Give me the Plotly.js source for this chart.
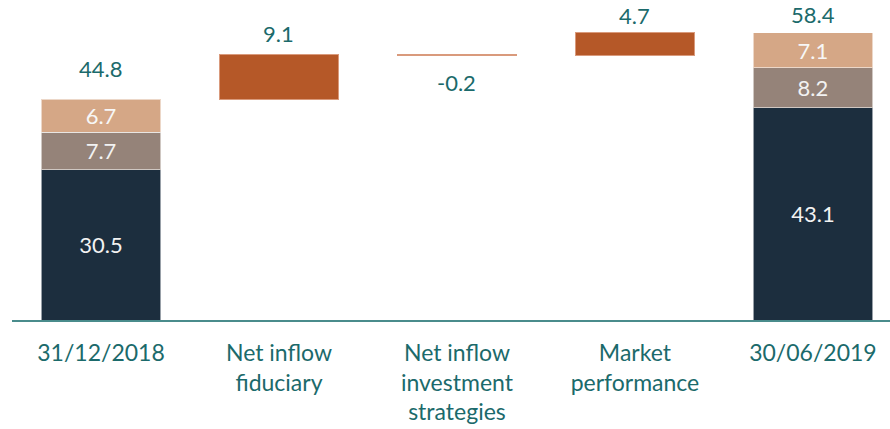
<!DOCTYPE html>
<html>
<head>
<meta charset="utf-8">
<script src="https://cdn.plot.ly/plotly-3.0.1.min.js"></script>
<style>html,body{margin:0;padding:0;background:#fff;}#chart{width:890px;height:429px;}</style>
</head>
<body>
<div id="chart"></div>
<script>
var categories = ['31/12/2018', 'Net inflow<br>fiduciary', 'Net inflow<br>investment<br>strategies', 'Market<br>performance', '30/06/2019'];
var segDark  = [30.5, null, null, null, 43.1];
var segTaupe = [7.7, null, null, null, 8.2];
var segPeach = [6.7, null, null, null, 7.1];
var deltas   = [null, 9.1, -0.2, 4.7, null];
var totals   = [44.8, null, null, null, 58.4];

// running base for the floating bars
var dX = [], dY = [], dBase = [];
var running = 0;
for (var i = 0; i < categories.length; i++) {
  if (totals[i] !== null) { running = totals[i]; }
  else { dX.push(categories[i]); dY.push(deltas[i]); dBase.push(running); running += deltas[i]; }
}

var labelColor = '#1b6a6b';
var font = 'Lato';
var W = 0.67;
var edge = {color: 'rgba(255,255,255,0.55)', width: 1};

function fmt(v) { return v === null ? '' : v.toFixed(1); }

var traces = [
  {type: 'bar', x: categories, y: segDark, width: W, marker: {color: '#1c2e3e', line: edge},
   text: segDark.map(fmt), textposition: 'inside', insidetextanchor: 'middle',
   textfont: {family: font, size: 22, color: '#f2f2f2'}, hoverinfo: 'none'},
  {type: 'bar', x: categories, y: segTaupe, width: W, marker: {color: '#958379', line: edge},
   text: segTaupe.map(fmt), textposition: 'inside', insidetextanchor: 'middle',
   textfont: {family: font, size: 22, color: '#f2f2f2'}, hoverinfo: 'none'},
  {type: 'bar', x: categories, y: segPeach, width: W, marker: {color: '#d5a786', line: edge},
   text: segPeach.map(fmt), textposition: 'inside', insidetextanchor: 'middle',
   textfont: {family: font, size: 22, color: '#f7f7f7'}, hoverinfo: 'none'},
  {type: 'bar', x: dX, y: dY, base: dBase, width: W,
   marker: {color: '#b55828', line: {color: '#d99a7c', width: 1}}, hoverinfo: 'none'}
];

var annotations = [];
for (var j = 0; j < categories.length; j++) {
  if (totals[j] !== null) {
    annotations.push({x: j, y: totals[j], xref: 'x', yref: 'y', text: totals[j].toFixed(1),
      showarrow: false, yanchor: 'bottom', yshift: (j === 0 ? 16 : 3),
      font: {family: font, size: 22, color: labelColor}});
  }
}
for (var k = 0; k < dX.length; k++) {
  var idx = categories.indexOf(dX[k]);
  if (dY[k] >= 0) {
    annotations.push({x: idx, y: dBase[k] + dY[k], xref: 'x', yref: 'y', text: dY[k].toFixed(1),
      showarrow: false, yanchor: 'bottom', yshift: (idx === 3 ? 2 : 6),
      font: {family: font, size: 22, color: labelColor}});
  } else {
    annotations.push({x: idx, y: dBase[k] + dY[k], xref: 'x', yref: 'y', text: dY[k].toFixed(1),
      showarrow: false, yanchor: 'top', yshift: -11,
      font: {family: font, size: 22, color: labelColor}});
  }
}

var layout = {
  width: 890, height: 429,
  margin: {l: 12, r: 0, t: 0, b: 109},
  paper_bgcolor: '#ffffff', plot_bgcolor: '#ffffff',
  barmode: 'stack',
  showlegend: false,
  xaxis: {type: 'category', categoryorder: 'array', categoryarray: categories,
    range: [-0.5, 4.433], showline: true, linecolor: '#4a8c8c', linewidth: 2,
    ticks: 'outside', ticklen: 11, tickcolor: 'rgba(0,0,0,0)', showgrid: false, zeroline: false, fixedrange: true,
    tickfont: {family: font, size: 23, color: labelColor}},
  yaxis: {range: [0, 65.04], visible: false, showgrid: false, zeroline: false, fixedrange: true},
  annotations: annotations
};

Plotly.newPlot('chart', traces, layout, {displayModeBar: false, staticPlot: true});
</script>
</body>
</html>
